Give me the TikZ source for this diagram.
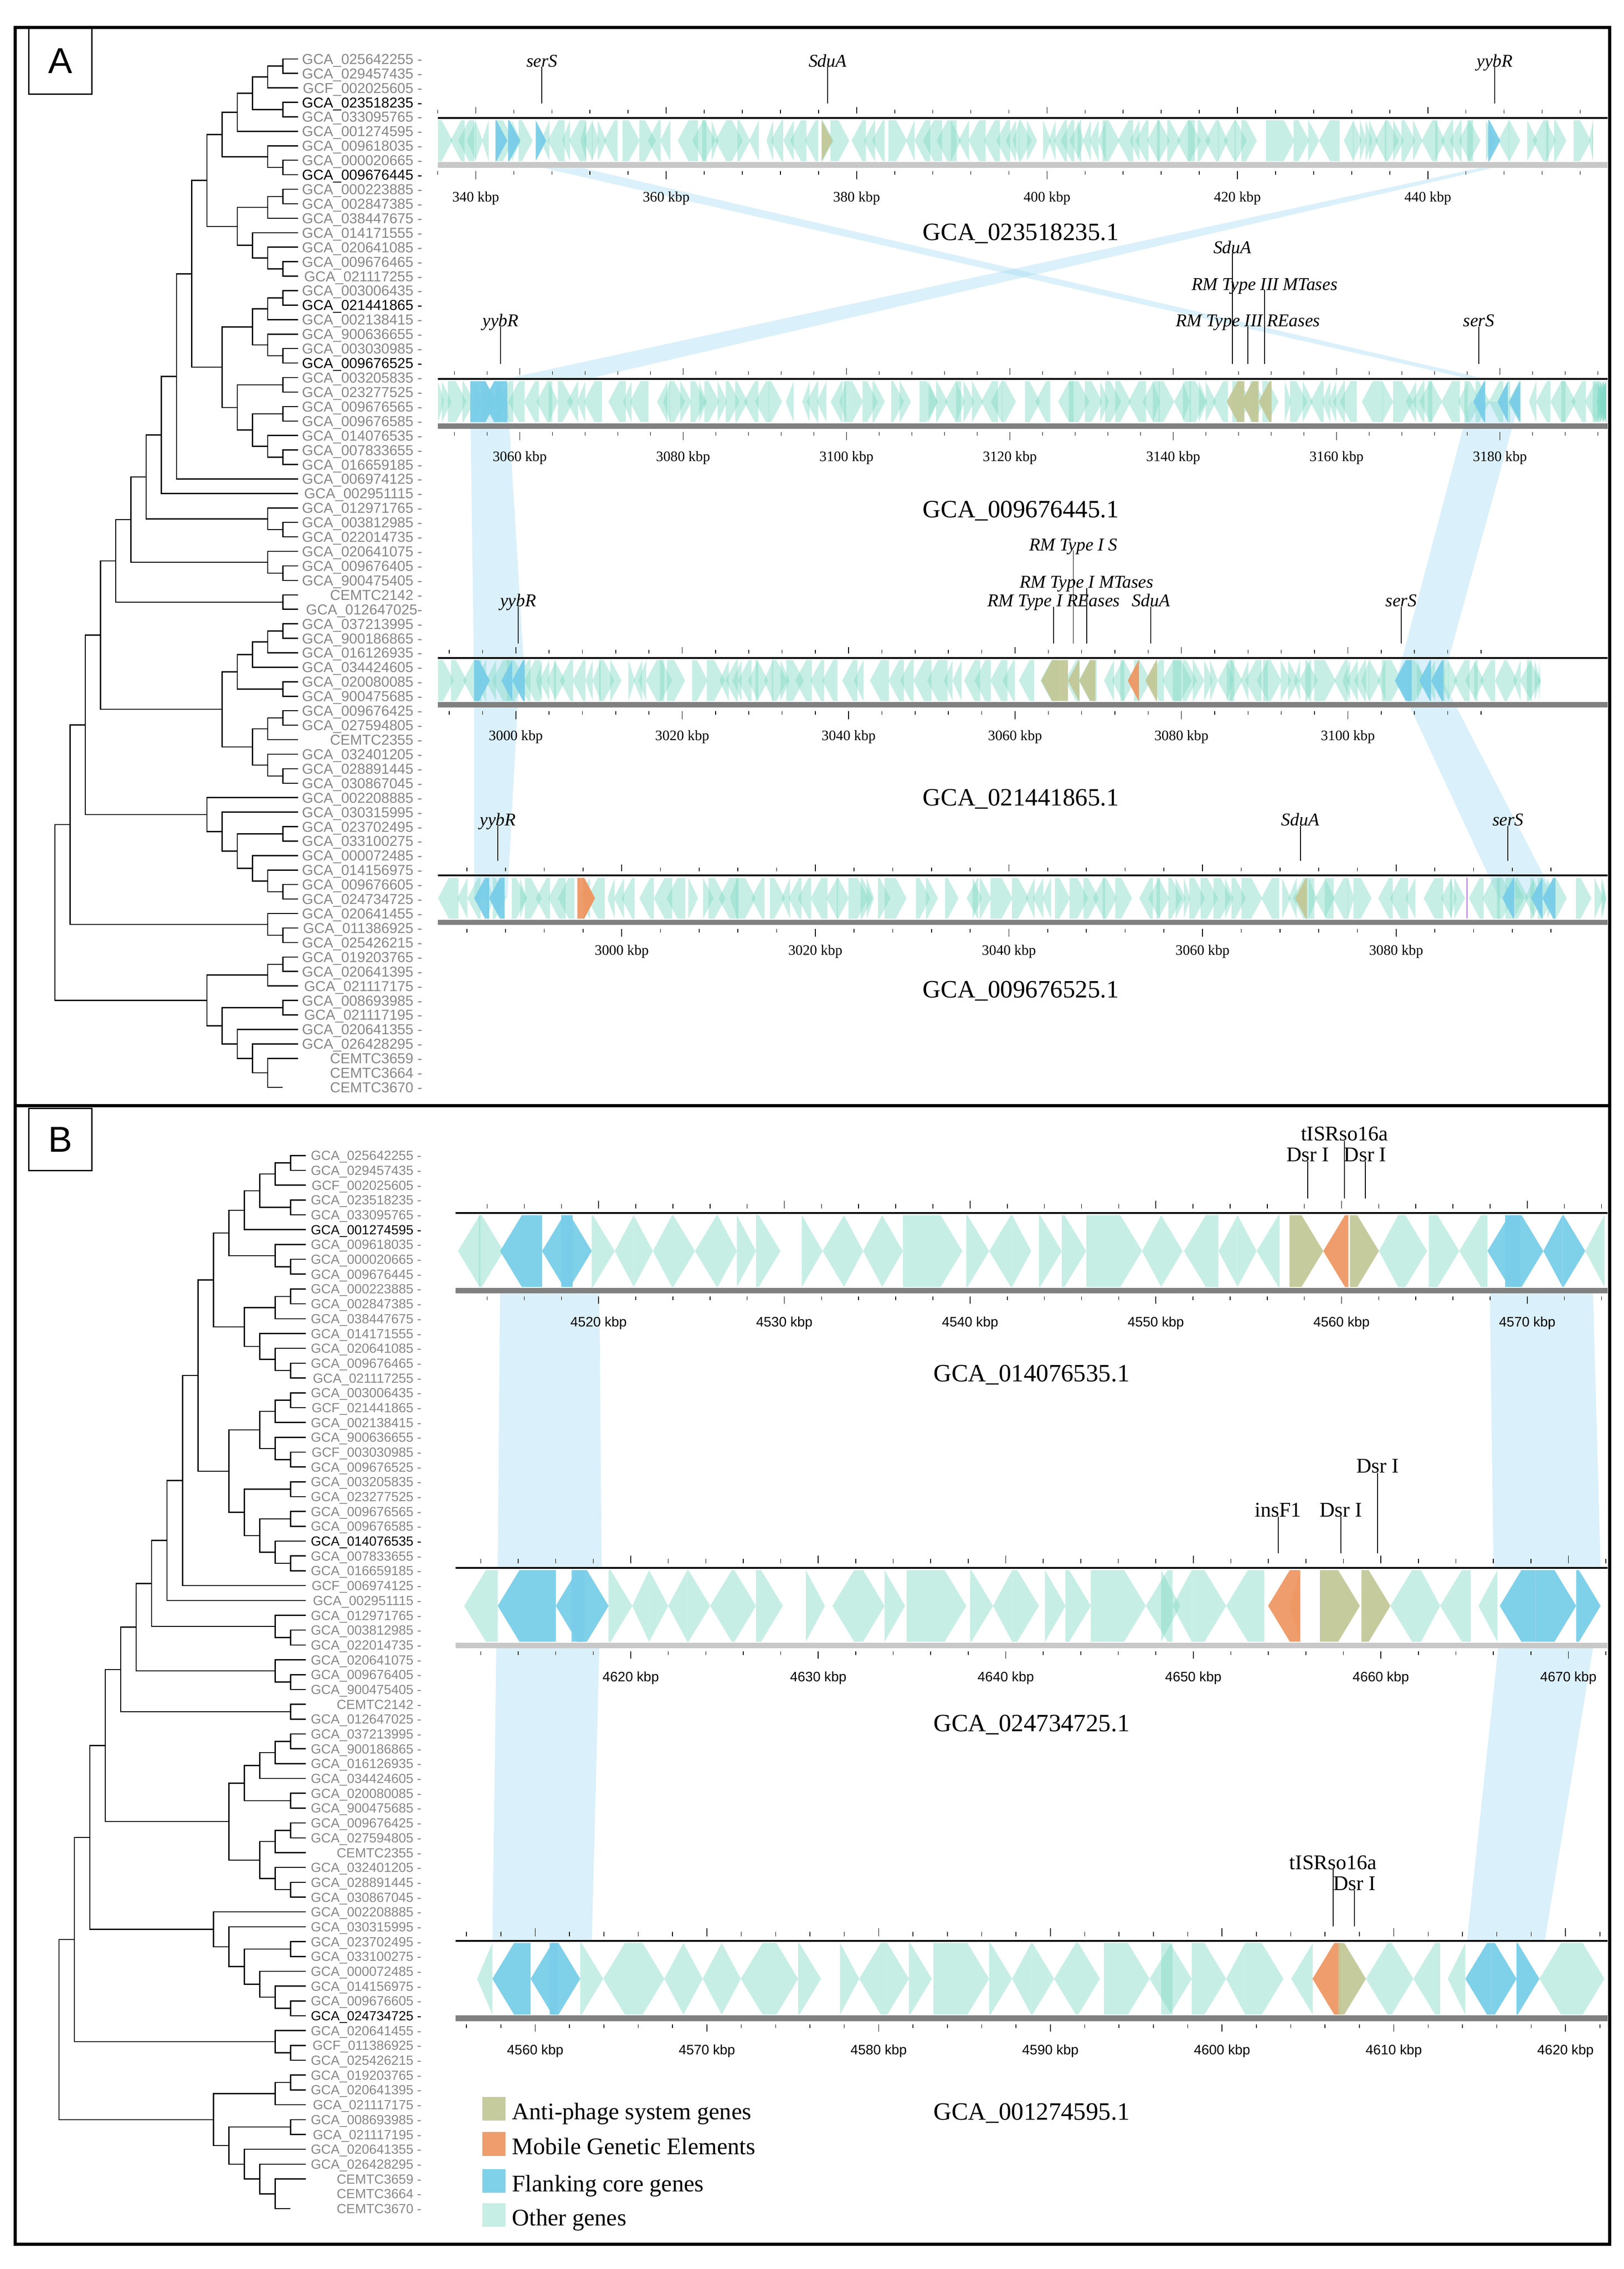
\documentclass[tikz,border=0pt]{standalone}
\usepackage{fontspec}
\setmainfont{Liberation Serif}
\setsansfont{Liberation Sans}
\usetikzlibrary{calc}

\definecolor{othergene}{RGB}{130,218,198}
\definecolor{coregene}{RGB}{120,205,232}
\definecolor{phagegene}{RGB}{194,200,152}
\definecolor{mobilegene}{RGB}{238,152,100}
\definecolor{bandblue}{RGB}{168,220,242}
\definecolor{leafgray}{RGB}{135,135,135}
\definecolor{barlight}{RGB}{200,200,200}
\definecolor{bardark}{RGB}{128,128,128}
\definecolor{markline}{RGB}{170,110,200}

\tikzset{
  branch/.style={line width=0.8bp},
  leafg/.style={anchor=base east, inner sep=0pt, font=\sffamily\leafsize, text=leafgray},
  leafk/.style={leafg, text=black},
  other/.style={fill=othergene, fill opacity=0.45},
  core/.style={fill=coregene, fill opacity=0.95},
  phage/.style={fill=phagegene, fill opacity=0.95},
  mobile/.style={fill=mobilegene, fill opacity=0.95},
  topline/.style={line width=1.2bp},
  tickline/.style={line width=0.5bp},
  ticklabA/.style={anchor=base, inner sep=0pt, font=\fontsize{10}{12}\selectfont},
  ticklabB/.style={anchor=base, inner sep=0pt, font=\sffamily\fontsize{9.5}{11}\selectfont},
  genelab/.style={anchor=base, inner sep=0pt, font=\itshape\fontsize{12.5}{14}\selectfont},
  genelabB/.style={anchor=base, inner sep=0pt, font=\fontsize{14.5}{16}\selectfont},
  gline/.style={line width=0.6bp},
  genome/.style={anchor=base, inner sep=0pt, font=\fontsize{17.3}{20}\selectfont},
  synteny/.style={fill=bandblue, fill opacity=0.42},
  legtext/.style={anchor=base west, inner sep=0pt, font=\fontsize{16.5}{19}\selectfont},
  panel/.style={draw, line width=1bp, minimum width=43.5bp, font=\sffamily\fontsize{25}{28}\selectfont},
}

% one gene arrow: start, head end, track middle, style
\newcommand\gene[4]{%
  \pgfmathsetmacro\gnLl{abs(#2-#1)}%
  \pgfmathsetmacro\gnBase{#2>#1 ? #2-min(\gnHead,\gnLl) : #2+min(\gnHead,\gnLl)}%
  \fill[#4] (#1,#3-\gnHalf) -- (\gnBase,#3-\gnHalf) -- (#2,#3) -- (\gnBase,#3+\gnHalf) -- (#1,#3+\gnHalf) -- cycle;}
\newcommand\genes[3]{\foreach \gA/\gB in {#3}{\gene{\gA}{\gB}{#1}{#2}}}
% dense strip of other genes
\newcommand\othergenes[4]{%
  \pgfmathsetseed{#4}%
  \xdef\gnX{#1}\xdef\gnDir{1}%
  \foreach \k in {1,...,220}{%
    \ifdim\gnX pt<#2pt
      \pgfmathsetmacro\gnLen{4+9*rnd+12*rnd*rnd*rnd*rnd}%
      \pgfmathsetmacro\gnNdir{\gnDir*(rnd<0.32 ? -1 : 1)}%
      \xdef\gnDir{\gnNdir}%
      \pgfmathsetmacro\gnEnd{min(\gnX+\gnLen,#2)}%
      \ifdim\gnDir pt>0pt
        \gene{\gnX}{\gnEnd}{#3}{other}%
      \else
        \gene{\gnEnd}{\gnX}{#3}{other}%
      \fi
      \pgfmathsetmacro\gnNext{\gnEnd+(rnd<0.15 ? 1.5+5*rnd : -0.5*\gnLen*rnd)}%
      \xdef\gnX{\gnNext}%
    \fi}}
% tree bracket: name, level, upper child, lower child
\newcommand\clade[4]{%
  \coordinate (#1m) at ($(#3)!0.5!(#4)$);
  \coordinate (#1x) at ({\treetip-\treestep*#2},0);
  \coordinate (#1) at (#1x |- #1m);
  \draw[branch] (#3) -- (#3 -| #1) -- (#4 -| #1) -- (#4);}
\newcommand\drawtree[1]{%
  \clade{#1c12}{1}{#1l1}{#1l2}
  \clade{#1c1t3}{2}{#1c12}{#1l3}
  \clade{#1c45}{1}{#1l4}{#1l5}
  \clade{#1c1t5}{3}{#1c1t3}{#1c45}
  \clade{#1c1t6}{4}{#1c1t5}{#1l6}
  \clade{#1c89}{1}{#1l8}{#1l9}
  \clade{#1c7t9}{2}{#1l7}{#1c89}
  \clade{#1c1t9}{5}{#1c1t6}{#1c7t9}
  \clade{#1c1011}{1}{#1l10}{#1l11}
  \clade{#1c10t12}{2}{#1c1011}{#1l12}
  \clade{#1c1516}{1}{#1l15}{#1l16}
  \clade{#1c14t16}{2}{#1l14}{#1c1516}
  \clade{#1c13t16}{3}{#1l13}{#1c14t16}
  \clade{#1c10t16}{4}{#1c10t12}{#1c13t16}
  \clade{#1c1t16}{6}{#1c1t9}{#1c10t16}
  \clade{#1c1718}{1}{#1l17}{#1l18}
  \clade{#1c17t19}{2}{#1c1718}{#1l19}
  \clade{#1c2122}{1}{#1l21}{#1l22}
  \clade{#1c20t22}{2}{#1l20}{#1c2122}
  \clade{#1c17t22}{3}{#1c17t19}{#1c20t22}
  \clade{#1c2324}{1}{#1l23}{#1l24}
  \clade{#1c2526}{1}{#1l25}{#1l26}
  \clade{#1c2829}{1}{#1l28}{#1l29}
  \clade{#1c27t29}{2}{#1l27}{#1c2829}
  \clade{#1c25t29}{3}{#1c2526}{#1c27t29}
  \clade{#1c23t29}{4}{#1c2324}{#1c25t29}
  \clade{#1c17t29}{5}{#1c17t22}{#1c23t29}
  \clade{#1c1t29}{7}{#1c1t16}{#1c17t29}
  \clade{#1c1t30}{8}{#1c1t29}{#1l30}
  \clade{#1c1t31}{9}{#1c1t30}{#1l31}
  \clade{#1c3334}{1}{#1l33}{#1l34}
  \clade{#1c32t34}{2}{#1l32}{#1c3334}
  \clade{#1c1t34}{10}{#1c1t31}{#1c32t34}
  \clade{#1c3637}{1}{#1l36}{#1l37}
  \clade{#1c35t37}{2}{#1l35}{#1c3637}
  \clade{#1c1t37}{11}{#1c1t34}{#1c35t37}
  \clade{#1c3839}{1}{#1l38}{#1l39}
  \clade{#1c1t39}{12}{#1c1t37}{#1c3839}
  \clade{#1c4041}{1}{#1l40}{#1l41}
  \clade{#1c40t42}{2}{#1c4041}{#1l42}
  \clade{#1c40t43}{3}{#1c40t42}{#1l43}
  \clade{#1c4445}{1}{#1l44}{#1l45}
  \clade{#1c40t45}{4}{#1c40t43}{#1c4445}
  \clade{#1c4647}{1}{#1l46}{#1l47}
  \clade{#1c46t48}{2}{#1c4647}{#1l48}
  \clade{#1c5051}{1}{#1l50}{#1l51}
  \clade{#1c49t51}{2}{#1l49}{#1c5051}
  \clade{#1c46t51}{3}{#1c46t48}{#1c49t51}
  \clade{#1c40t51}{5}{#1c40t45}{#1c46t51}
  \clade{#1c1t51}{13}{#1c1t39}{#1c40t51}
  \clade{#1c5455}{1}{#1l54}{#1l55}
  \clade{#1c5859}{1}{#1l58}{#1l59}
  \clade{#1c57t59}{2}{#1l57}{#1c5859}
  \clade{#1c56t59}{3}{#1l56}{#1c57t59}
  \clade{#1c54t59}{4}{#1c5455}{#1c56t59}
  \clade{#1c53t59}{5}{#1l53}{#1c54t59}
  \clade{#1c52t59}{6}{#1l52}{#1c53t59}
  \clade{#1c1t59}{14}{#1c1t51}{#1c52t59}
  \clade{#1c6162}{1}{#1l61}{#1l62}
  \clade{#1c60t62}{2}{#1l60}{#1c6162}
  \clade{#1c1t62}{15}{#1c1t59}{#1c60t62}
  \clade{#1c6364}{1}{#1l63}{#1l64}
  \clade{#1c63t65}{2}{#1c6364}{#1l65}
  \clade{#1c6667}{1}{#1l66}{#1l67}
  \clade{#1c70t72}{2}{#1l70}{#1l72}
  \clade{#1c69t72}{3}{#1l69}{#1c70t72}
  \clade{#1c68t72}{4}{#1l68}{#1c69t72}
  \clade{#1c66t72}{5}{#1c6667}{#1c68t72}
  \clade{#1c63t72}{6}{#1c63t65}{#1c66t72}
  \clade{#1root}{16}{#1c1t62}{#1c63t72}}
% ticks: top line y, x of k0, k0, px per kbp, tick list, major list
\newcommand\ticksA[6]{%
  \foreach \k in {#5}{\draw[tickline] ({#2+(\k-#3)*#4},#1-5.5) -- ++(0,2.5) ({#2+(\k-#3)*#4},#1+36.8) -- ++(0,2.5);}
  \foreach \k in {#6}{\draw[tickline] ({#2+(\k-#3)*#4},#1-7.5) -- ++(0,4.5) ({#2+(\k-#3)*#4},#1+36.8) -- ++(0,5.5);}}
\newcommand\ticksB[6]{%
  \foreach \k in {#5}{\draw[tickline] ({#2+(\k-#3)*#4},#1-6.2) -- ++(0,3.1) ({#2+(\k-#3)*#4},#1+57.7) -- ++(0,2.5);}
  \foreach \k in {#6}{\draw[tickline] ({#2+(\k-#3)*#4},#1-8.6) -- ++(0,5.5) ({#2+(\k-#3)*#4},#1+57.7) -- ++(0,5);}}

\begin{document}
\begin{tikzpicture}[x=1bp,y=-1bp]
\useasboundingbox (0,0) rectangle (1122.1,1568);

% synteny bands
\fill[synteny] (376,116.2) -- (403,116.2) -- (1027,261.9) -- (1016,261.9) -- cycle;
\fill[synteny] (1022,116.2) -- (1031,116.2) -- (406,261.9) -- (349,261.9) -- cycle;
\fill[synteny] (325,277.6) -- (351,277.6) -- (362.7,470.3) -- (327.7,470.3) -- cycle;
\fill[synteny] (1016,277.6) -- (1050,277.6) -- (997,470.3) -- (965,470.3) -- cycle;
\fill[synteny] (327.7,470.3) -- (358.7,470.3) -- (350.6,620.7) -- (327.7,620.7) -- cycle;
\fill[synteny] (966,470.3) -- (997,470.3) -- (1075,620.7) -- (1036,620.7) -- cycle;
\fill[synteny] (345.6,893.1) -- (414.2,893.1) -- (415.8,1083.5) -- (344,1083.5) -- cycle;
\fill[synteny] (1029.6,893.1) -- (1100.9,893.1) -- (1106.2,1083.5) -- (1032.2,1083.5) -- cycle;
\fill[synteny] (343,1138.9) -- (414.2,1138.9) -- (409,1341.2) -- (340.3,1341.2) -- cycle;
\fill[synteny] (1035.4,1138.9) -- (1100.9,1138.9) -- (1067.6,1341.2) -- (1013.8,1341.2) -- cycle;

% frame and panel letters
\draw[line width=2.2bp] (10.5,19) rectangle (1112.5,1551);
\draw[line width=2.2bp] (10.5,764) -- (1112.5,764);
\node[panel, minimum height=46bp] (panelA) at (41.75,42) {A};
\node[panel, minimum height=43bp] (panelB) at (41.75,787.5) {B};

% tree A
\def\treetip{206}\def\treestep{10.5}
\def\leafsize{\fontsize{10}{12}\selectfont}
\foreach \n/\c [count=\i] in {GCA\_025642255 -/g, GCA\_029457435 -/g, GCF\_002025605 -/g,
  GCA\_023518235 -/k, GCA\_033095765 -/g, GCA\_001274595 -/g, GCA\_009618035 -/g,
  GCA\_000020665 -/g, GCA\_009676445 -/k, GCA\_000223885 -/g, GCA\_002847385 -/g,
  GCA\_038447675 -/g, GCA\_014171555 -/g, GCA\_020641085 -/g, GCA\_009676465 -/g,
  GCA\_021117255 -/g, GCA\_003006435 -/g, GCA\_021441865 -/k, GCA\_002138415 -/g,
  GCA\_900636655 -/g, GCA\_003030985 -/g, GCA\_009676525 -/k, GCA\_003205835 -/g,
  GCA\_023277525 -/g, GCA\_009676565 -/g, GCA\_009676585 -/g, GCA\_014076535 -/g,
  GCA\_007833655 -/g, GCA\_016659185 -/g, GCA\_006974125 -/g, GCA\_002951115 -/g,
  GCA\_012971765 -/g, GCA\_003812985 -/g, GCA\_022014735 -/g, GCA\_020641075 -/g,
  GCA\_009676405 -/g, GCA\_900475405 -/g, CEMTC2142 -/g, GCA\_012647025-/g,
  GCA\_037213995 -/g, GCA\_900186865 -/g, GCA\_016126935 -/g, GCA\_034424605 -/g,
  GCA\_020080085 -/g, GCA\_900475685 -/g, GCA\_009676425 -/g, GCA\_027594805 -/g,
  CEMTC2355 -/g, GCA\_032401205 -/g, GCA\_028891445 -/g, GCA\_030867045 -/g,
  GCA\_002208885 -/g, GCA\_030315995 -/g, GCA\_023702495 -/g, GCA\_033100275 -/g,
  GCA\_000072485 -/g, GCA\_014156975 -/g, GCA\_009676605 -/g, GCA\_024734725 -/g,
  GCA\_020641455 -/g, GCA\_011386925 -/g, GCA\_025426215 -/g, GCA\_019203765 -/g,
  GCA\_020641395 -/g, GCA\_021117175 -/g, GCA\_008693985 -/g, GCA\_021117195 -/g,
  GCA\_020641355 -/g, GCA\_026428295 -/g, CEMTC3659 -/g, CEMTC3664 -/g, CEMTC3670 -/g}{
  \coordinate (al\i) at (206,{40.7+(\i-1)*10.01});
  \node[leaf\c] (an\i) at (292,{44.3+(\i-1)*10.01}) {\n};
}
\coordinate (al72) at (195.5,751.4);
\drawtree{a}

% tree B
\def\treetip{211.5}\def\treestep{10.67}
\def\leafsize{\fontsize{9.2}{11}\selectfont}
\foreach \n/\c [count=\i] in {GCA\_025642255 -/g, GCA\_029457435 -/g, GCF\_002025605 -/g,
  GCA\_023518235 -/g, GCA\_033095765 -/g, GCA\_001274595 -/k, GCA\_009618035 -/g,
  GCA\_000020665 -/g, GCA\_009676445 -/g, GCA\_000223885 -/g, GCA\_002847385 -/g,
  GCA\_038447675 -/g, GCA\_014171555 -/g, GCA\_020641085 -/g, GCA\_009676465 -/g,
  GCA\_021117255 -/g, GCA\_003006435 -/g, GCF\_021441865 -/g, GCA\_002138415 -/g,
  GCA\_900636655 -/g, GCF\_003030985 -/g, GCA\_009676525 -/g, GCA\_003205835 -/g,
  GCA\_023277525 -/g, GCA\_009676565 -/g, GCA\_009676585 -/g, GCA\_014076535 -/k,
  GCA\_007833655 -/g, GCA\_016659185 -/g, GCF\_006974125 -/g, GCA\_002951115 -/g,
  GCA\_012971765 -/g, GCA\_003812985 -/g, GCA\_022014735 -/g, GCA\_020641075 -/g,
  GCA\_009676405 -/g, GCA\_900475405 -/g, CEMTC2142 -/g, GCA\_012647025 -/g,
  GCA\_037213995 -/g, GCA\_900186865 -/g, GCA\_016126935 -/g, GCA\_034424605 -/g,
  GCA\_020080085 -/g, GCA\_900475685 -/g, GCA\_009676425 -/g, GCA\_027594805 -/g,
  CEMTC2355 -/g, GCA\_032401205 -/g, GCA\_028891445 -/g, GCA\_030867045 -/g,
  GCA\_002208885 -/g, GCA\_030315995 -/g, GCA\_023702495 -/g, GCA\_033100275 -/g,
  GCA\_000072485 -/g, GCA\_014156975 -/g, GCA\_009676605 -/g, GCA\_024734725 -/k,
  GCA\_020641455 -/g, GCF\_011386925 -/g, GCA\_025426215 -/g, GCA\_019203765 -/g,
  GCA\_020641395 -/g, GCA\_021117175 -/g, GCA\_008693985 -/g, GCA\_021117195 -/g,
  GCA\_020641355 -/g, GCA\_026428295 -/g, CEMTC3659 -/g, CEMTC3664 -/g, CEMTC3670 -/g}{
  \coordinate (bl\i) at (211.5,{798.5+(\i-1)*10.25});
  \node[leaf\c] (bn\i) at (291.5,{801.8+(\i-1)*10.25}) {\n};
}
\coordinate (bl72) at (200.8,1526.25);
\drawtree{b}

% ---- panel A tracks ----
\def\gnHead{7.5}\def\gnHalf{14.1}
% GCA_023518235.1
\othergenes{302.7}{1101}{97.2}{11}
\genes{97.2}{core}{342.5/350.6, 351.1/359.5, 370.2/377.5, 1028.5/1036.8}
\genes{97.2}{phage}{567.8/575.4}
\draw[topline] (302.7,81.5) -- (1111,81.5);
\fill[barlight] (302.7,112.1) rectangle (1111,115.9);
\ticksA{81.5}{328.8}{340}{6.58}{336,340,...,456}{340,360,...,440}
\foreach \k in {340,360,...,440}
  \node[ticklabA] (ta1-\k) at ({328.8+(\k-340)*6.58},139.5) {\k\ kbp};
\node[genome] (gA1) at (705.5,166.2) {GCA\_023518235.1};
\node[genelab] (a1serS) at (374.5,46.2) {serS};
\node[genelab] (a1SduA) at (572,46.2) {SduA};
\node[genelab] (a1yybR) at (1033,46.2) {yybR};
\foreach \g in {a1serS,a1SduA,a1yybR}{
  \coordinate (\g-t) at ([yshift=-25.3bp]\g.base);
  \draw[gline] (\g.base) -- (\g-t);}

% GCA_009676445.1
\othergenes{302.7}{1110}{277.6}{23}
\genes{277.6}{core}{325/343, 350.6/334, 343/350.6, 1026.4/1018.2, 1042/1035, 1050.5/1043}
\genes{277.6}{phage}{860/847.8, 869.8/858, 878.8/869.8}
\draw[topline] (302.7,261.9) -- (1111,261.9);
\fill[bardark] (302.7,292.5) rectangle (1111,296.3);
\ticksA{261.9}{359.2}{3060}{5.645}{3052,3056,...,3192}{3060,3080,...,3180}
\foreach \k in {3060,3080,...,3180}
  \node[ticklabA] (ta2-\k) at ({359.2+(\k-3060)*5.645},318.9) {\k\ kbp};
\node[genome] (gA2) at (705.5,357.8) {GCA\_009676445.1};
\node[genelab] (a2SduA) at (851.7,175) {SduA};
\node[genelab] (a2MT) at (874,200.5) {RM Type III MTases};
\node[genelab] (a2RE) at (862.5,225.7) {RM Type III REases};
\node[genelab] (a2yybR) at (346,225.7) {yybR};
\node[genelab] (a2serS) at (1022,225.7) {serS};
\foreach \g in {a2SduA,a2MT,a2RE,a2yybR,a2serS}{
  \coordinate (\g-t) at (\g.base |- 0,251.5);
  \draw[gline] (\g.base) -- (\g-t);}

% GCA_021441865.1
\othergenes{302.7}{1064.6}{470.3}{37}
\genes{470.3}{core}{327.7/338.5, 354/346.5, 362.7/354, 975.6/964, 989/980.8, 997.5/989}
\genes{470.3}{phage}{738.1/719.6, 745.9/738.1, 757/745.9, 799.6/791.6}
\genes{470.3}{mobile}{787.2/779.4}
\draw[topline] (302.7,454.6) -- (1111,454.6);
\fill[bardark] (302.7,485.2) rectangle (1111,489);
\ticksA{454.6}{356.5}{3000}{5.75}{2992,2996,...,3116}{3000,3020,...,3100}
\foreach \k in {3000,3020,...,3100}
  \node[ticklabA] (ta3-\k) at ({356.5+(\k-3000)*5.75},511.6) {\k\ kbp};
\node[genome] (gA3) at (705.5,556.8) {GCA\_021441865.1};
\node[genelab] (a3S) at (741.8,380.5) {RM Type I S};
\node[genelab] (a3MT) at (751,406.4) {RM Type I MTases};
\node[genelab] (a3RE) at (728.3,419.2) {RM Type I REases};
\node[genelab] (a3SduA) at (795.4,419.2) {SduA};
\node[genelab] (a3yybR) at (358.1,419.2) {yybR};
\node[genelab] (a3serS) at (968.4,419.2) {serS};
\foreach \g in {a3S,a3MT,a3RE,a3SduA,a3yybR,a3serS}{
  \coordinate (\g-t) at (\g.base |- 0,444.6);
  \draw[gline] (\g.base) -- (\g-t);}

% GCA_009676525.1
\othergenes{302.7}{1110}{620.7}{53}
\genes{620.7}{core}{338/327.7, 348.7/338, 1046.6/1038.3, 1066/1058.2, 1075/1066}
\genes{620.7}{mobile}{399/411.2, 403/411.2}
\genes{620.7}{phage}{903.3/895}
\draw[markline, line width=0.7bp] (1013.8,606.6) -- (1013.8,634.8);
\draw[topline] (302.7,605) -- (1111,605);
\fill[bardark] (302.7,635.6) rectangle (1111,639);
\ticksA{605}{429.7}{3000}{6.69}{2984,2988,...,3096}{3000,3020,...,3080}
\foreach \k in {3000,3020,...,3080}
  \node[ticklabA] (ta4-\k) at ({429.7+(\k-3000)*6.69},660) {\k\ kbp};
\node[genome] (gA4) at (705.5,689.5) {GCA\_009676525.1};
\node[genelab] (a4yybR) at (344.1,570.7) {yybR};
\node[genelab] (a4SduA) at (898.7,570.7) {SduA};
\node[genelab] (a4serS) at (1042.2,570.7) {serS};
\foreach \g in {a4yybR,a4SduA,a4serS}{
  \coordinate (\g-t) at (\g.base |- 0,595);
  \draw[gline] (\g.base) -- (\g-t);}

% ---- panel B tracks ----
\def\gnHead{15}\def\gnHalf{24.75}
% GCA_014076535.1
\genes{864.55}{other}{332/316.5, 331/348, 409/424.8, 438/424.8, 438/451.2, 464.4/451.2,
  464.4/480.3, 496/480.3, 496/509.3, 509.3/522.5, 522.5/539.4, 554.2/568.5, 583.3/568.5,
  583.3/596.5, 609.7/596.5, 609.7/624, 624/665.1, 667.8/683.6, 699.5/683.6, 699.5/712.7,
  718/733.8, 733.8/750.7, 750.7/789.3, 802.5/789.3, 802.5/817.3, 842.1/818.3, 855.3/842.1,
  855.3/868.5, 884.3/868.5, 966.2/953, 966.2/986.3, 987.4/1008.5, 1028/1008.5, 1108.8/1095.6}
\genes{864.55}{core}{374.6/345.6, 395.8/374.6, 387.8/409, 1050.7/1028, 1040.2/1066.6,
  1079.8/1066.6, 1079.8/1095.6}
\genes{864.55}{phage}{891.2/914.5, 933/953}
\genes{864.55}{mobile}{931.9/914.5}
\draw[topline] (314.9,838.3) -- (1111,838.3);
\fill[bardark] (314.9,889.9) rectangle (1111,893.7);
\ticksB{838.3}{413.7}{4520}{12.836}{4514,4516,...,4574}{4520,4530,...,4570}
\foreach \k in {4520,4530,...,4570}
  \node[ticklabB] (tb1-\k) at ({413.7+(\k-4520)*12.836},916.8) {\k\ kbp};
\node[genome] (gB1) at (713,954.7) {GCA\_014076535.1};
\node[genelabB] (b1tISR) at (929.2,788.3) {tISRso16a};
\node[genelabB] (b1DsrL) at (903.9,802.5) {Dsr I};
\node[genelabB] (b1DsrR) at (943.5,802.5) {Dsr I};
\foreach \g in {b1tISR,b1DsrL,b1DsrR}{
  \coordinate (\g-t) at (\g.base |- 0,828.3);
  \draw[gline] (\g.base) -- (\g-t);}

% GCA_024734725.1
\genes{1109.75}{other}{344/320.8, 420.6/437, 448.6/437, 448.6/461.8, 475/461.8, 475/490.8,
  506.7/490.8, 506.7/522.5, 522.5/541, 556.9/570.1, 596.5/575.3, 596.5/611.3, 611.3/625.5,
  626.6/667.8, 670.4/686.3, 699.5/686.3, 699.5/718, 722.2/736.4, 736.4/753.9, 753.9/791.9,
  810.4/791.9, 802.5/815.7, 823.6/810.4, 823.6/847.4, 873.8/847.4, 982.1/960.9,
  982.1/995.3, 1016.4/995.3, 1034.9/1021.7}
\genes{1109.75}{core}{384.1/344, 404/384.1, 395/420.6, 1061.3/1036.5, 1061.3/1089.3,
  1089.3/1106.2}
\genes{1109.75}{mobile}{898.6/876.4, 898.6/891.2}
\genes{1109.75}{phage}{912.3/939.8, 940.9/960.9}
\draw[topline] (314.9,1083.5) -- (1111,1083.5);
\fill[barlight] (314.9,1135.1) rectangle (1111,1138.9);
\ticksB{1083.5}{435.9}{4620}{12.96}{4612,4614,...,4672}{4620,4630,...,4670}
\foreach \k in {4620,4630,...,4670}
  \node[ticklabB] (tb2-\k) at ({435.9+(\k-4620)*12.96},1162) {\k\ kbp};
\node[genome] (gB2) at (713,1196.6) {GCA\_024734725.1};
\node[genelabB] (b2insF) at (883.3,1048.1) {insF1};
\node[genelabB] (b2DsrL) at (926.6,1048.1) {Dsr I};
\node[genelabB] (b2DsrT) at (952,1017.8) {Dsr I};
\foreach \g in {b2insF,b2DsrL,b2DsrT}{
  \coordinate (\g-t) at (\g.base |- 0,1073.5);
  \draw[gline] (\g.base) -- (\g-t);}

% GCA_001274595.1
\genes{1367.45}{other}{340.3/329.7, 401/416.9, 432.7/416.9, 432.7/459.1, 472.3/459.1,
  472.3/485.6, 498.8/485.6, 498.8/512, 527.8/512, 527.8/551.6, 551.6/567.4, 580.6/593.8,
  612.3/593.8, 612.3/628.2, 628.2/644, 645.1/683.6, 683.6/699.5, 712.7/699.5, 712.7/728.5,
  744.4/728.5, 744.4/760.2, 762.9/794.5, 810.4/794.5, 802.5/823.6, 823.6/847.4,
  860.6/847.4, 860.6/887, 907.3/892.3, 960.9/944, 960.9/976.8, 995.3/976.8, 1012.7/1000.5,
  1085/1063.9, 1085/1108.8}
\genes{1367.45}{core}{366.7/340.3, 385.2/366.7, 379.9/401, 1030.7/1012.7, 1030.7/1048.1,
  1048.1/1063.9}
\genes{1367.45}{mobile}{926.6/907.1}
\genes{1367.45}{phage}{925/944}
\draw[topline] (314.9,1341.2) -- (1111,1341.2);
\fill[bardark] (314.9,1392.8) rectangle (1111,1396.6);
\ticksB{1341.2}{369.9}{4560}{11.867}{4556,4558,...,4622}{4560,4570,...,4620}
\foreach \k in {4560,4570,...,4620}
  \node[ticklabB] (tb3-\k) at ({369.9+(\k-4560)*11.867},1419.7) {\k\ kbp};
\node[genome] (gB3) at (713,1465) {GCA\_001274595.1};
\node[genelabB] (b3tISR) at (921.3,1291.8) {tISRso16a};
\node[genelabB] (b3Dsr) at (936.1,1306.2) {Dsr I};
\foreach \g in {b3tISR,b3Dsr}{
  \coordinate (\g-t) at (\g.base |- 0,1331.2);
  \draw[gline] (\g.base) -- (\g-t);}

% legend
\foreach \c/\t/\yy [count=\i] in {phage/Anti-phage system genes/1449,
  mobile/Mobile Genetic Elements/1473.3, core/Flanking core genes/1498.9,
  other/Other genes/1522.4}{
  \fill[\c] (333.2,\yy) rectangle ++(16.3,16.5);
  \node[legtext] (leg\i) at (353.8,\yy+15.5) {\t};
}
\end{tikzpicture}
\end{document}
